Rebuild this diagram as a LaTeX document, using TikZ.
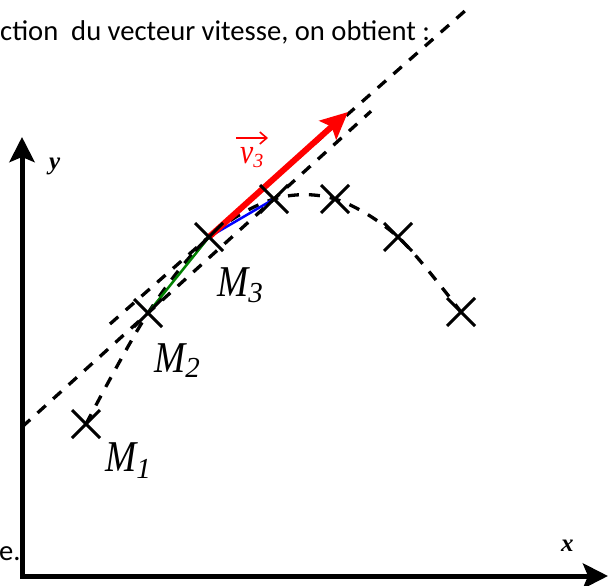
\documentclass[tikz,border=0pt]{standalone}
\usepackage{fontspec}
\setmainfont{Liberation Serif}
\newfontfamily\carlito{Carlito}
\usetikzlibrary{arrows.meta,shapes.misc,calc}
\begin{document}
\begin{tikzpicture}[x=1pt,y=-1pt,
  crossmark/.style={cross out,draw,line width=3pt,minimum size=25pt,inner sep=0pt},
  dashedline/.style={line width=3.3pt,dash pattern=on 11pt off 10pt},
  axisline/.style={line width=5pt,-{Stealth[length=25pt,width=25pt,inset=5pt]}},
  lbl/.style={anchor=base west,inner sep=0pt,font=\fontsize{44}{44}\selectfont\itshape},
  axlbl/.style={anchor=base west,inner sep=0pt,font=\fontsize{25}{25}\selectfont\bfseries\itshape},
  txt/.style={anchor=base west,inner sep=0pt,font=\carlito\fontsize{28.6}{28.6}\selectfont},
  ]
\useasboundingbox (0,0) rectangle (608,586);
% points
\coordinate (p1) at (86,424);
\coordinate (p2) at (148,313);
\coordinate (p3) at (209,237);
\coordinate (p4) at (274,199);
\coordinate (p5) at (335,199);
\coordinate (p6) at (398,237);
\coordinate (p7) at (461,312);
% axes
\coordinate (O) at (22,578);
\coordinate (ytip) at (22,137);
\coordinate (xstart) at (20,576);
\coordinate (xtip) at (608,576);
\draw[axisline] (O) -- (ytip);
\draw[axisline] (xstart) -- (xtip);
% texts
\node[txt] (top) at (0,41) {ction\ \ du vecteur vitesse, on obtient :};
\node[txt] (bot) at (-1,560) {e.};
\node[axlbl] (ylab) at (49,169) {y};
\node[axlbl] (xlab) at (561,551) {x};
% dashed lines
\coordinate (c1) at ($(p2)!-1!(p4)$);
\coordinate (c2) at ($(p2)!1.77!(p4)$);
\draw[dashedline] (c1) -- (c2);
\coordinate (t1) at ($(p3)+(-99,87)$);
\coordinate (t2) at ($(p3)+(257,-227)$);
\draw[dashedline] (t1) -- (t2);
% trajectory
\draw[dashedline] plot[smooth,tension=0.55] coordinates {(p1) (p2) (p3) (p4) (p5) (p6) (p7)};
% chords
\draw[green!50!black,line width=2.5pt] (p2) -- (p3);
\draw[blue,line width=2.5pt] (p3) -- (p4);
% velocity
\coordinate (vtip) at (348,112);
\draw[red,line width=6pt,-{Stealth[length=27pt,width=25pt,inset=5pt]}] (p3) -- (vtip);
\node[anchor=base west,inner sep=0pt,red,font=\fontsize{35}{35}\selectfont\itshape] (vlab) at (240,163) {\scalebox{0.85}[1]{v}\raisebox{-4pt}{\fontsize{20}{20}\selectfont 3}};
\coordinate (va) at (236,138);
\coordinate (vb) at (268,138);
\draw[red,line width=1.6pt,-{Straight Barb[length=7pt,width=12pt]}] (va) -- (vb);
% crosses
\foreach \i in {1,...,7} {\node[crossmark] (m\i) at (p\i) {};}
% labels
\node[lbl] (l1) at (105,471) {\scalebox{0.85}[1]{M}\raisebox{-7pt}{\fontsize{29}{29}\selectfont 1}};
\node[lbl] (l2) at (154,372) {\scalebox{0.85}[1]{M}\raisebox{-5pt}{\fontsize{29}{29}\selectfont 2}};
\node[lbl] (l3) at (217,296) {\scalebox{0.85}[1]{M}\raisebox{-6pt}{\fontsize{29}{29}\selectfont 3}};
\end{tikzpicture}
\end{document}
